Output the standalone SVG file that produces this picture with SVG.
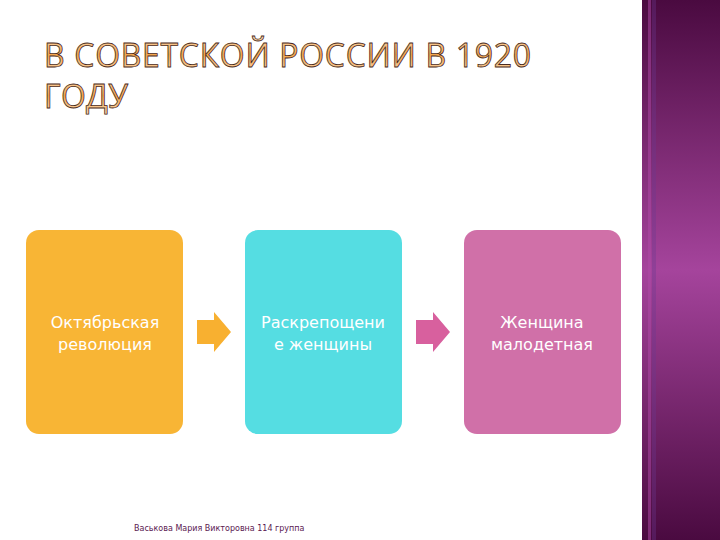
<svg xmlns="http://www.w3.org/2000/svg" width="720" height="540" viewBox="0 0 720 540">
<defs>
<linearGradient id="side" x1="0" y1="0" x2="0" y2="1">
<stop offset="0" stop-color="#4a0a40"/>
<stop offset="0.5" stop-color="#a5449c"/>
<stop offset="1" stop-color="#4a0a40"/>
</linearGradient>
<linearGradient id="tfill" x1="0" y1="0" x2="0" y2="1">
<stop offset="0" stop-color="#fbe3c8"/>
<stop offset="0.5" stop-color="#f3a64e"/>
<stop offset="1" stop-color="#fbe0c0"/>
</linearGradient>
<style>
.title{font-family:"Open Sans","DejaVu Sans",sans-serif;font-size:32px;fill:url(#tfill);stroke:#4a2a20;stroke-width:0.8}
.box{stroke:none}
.lbl{font-family:"DejaVu Sans","Liberation Sans",sans-serif;font-size:16px;fill:#ffffff;text-anchor:middle}
.foot{font-family:"DejaVu Sans","Liberation Sans",sans-serif;font-size:8px;fill:#5a1850}
</style>
</defs>
<rect width="720" height="540" fill="#ffffff"/>
<g id="sidebar">
<rect x="642" y="0" width="78" height="540" fill="url(#side)"/>
<rect x="648" y="0" width="3" height="540" fill="#b04aa8" opacity="0.5"/>
<rect x="652" y="0" width="4" height="540" fill="#6a3a90" opacity="0.35"/>
</g>
<g id="title">
<text class="title" x="44" y="67" textLength="487" lengthAdjust="spacing">В СОВЕТСКОЙ РОССИИ В 1920</text>
<text class="title" x="44" y="108" textLength="84" lengthAdjust="spacing">ГОДУ</text>
</g>
<g id="node1">
<rect class="box" x="26" y="230" width="157" height="204" rx="13" fill="#f8b535"/>
<text class="lbl" x="105" y="328">Октябрьская</text>
<text class="lbl" x="105" y="350">революция</text>
</g>
<g id="node2">
<rect class="box" x="245" y="230" width="157" height="204" rx="13" fill="#55dde2"/>
<text class="lbl" x="323" y="328">Раскрепощени</text>
<text class="lbl" x="323" y="350">е женщины</text>
</g>
<g id="node3">
<rect class="box" x="464" y="230" width="157" height="204" rx="13" fill="#d070a8"/>
<text class="lbl" x="542" y="328">Женщина</text>
<text class="lbl" x="542" y="350">малодетная</text>
</g>
<g id="connectors">
<polygon points="197,320 214,320 214,312 231,332 214,352 214,344 197,344" fill="#f8b030"/>
<polygon points="416,320 433,320 433,312 450,332 433,352 433,344 416,344" fill="#d8609e"/>
</g>
<g id="footer">
<text class="foot" x="134" y="531">Васькова Мария Викторовна 114  группа</text>
</g>
</svg>
